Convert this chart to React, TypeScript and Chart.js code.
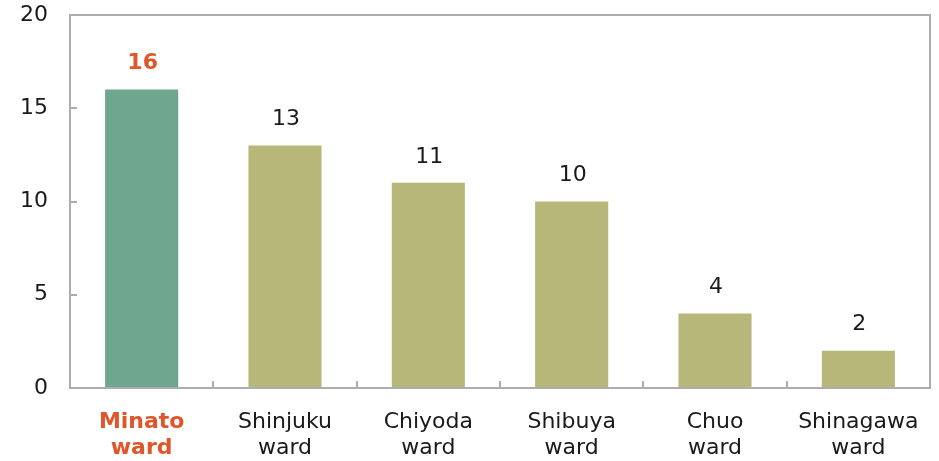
import React, { useEffect, useRef } from "react";
import { Chart, registerables } from "chart.js";

Chart.register(...registerables);

const categories: string[][] = [
  ["Minato", "ward"],
  ["Shinjuku", "ward"],
  ["Chiyoda", "ward"],
  ["Shibuya", "ward"],
  ["Chuo", "ward"],
  ["Shinagawa", "ward"],
];
const values: number[] = [16, 13, 11, 10, 4, 2];
const yTicks: number[] = [0, 5, 10, 15, 20];

const GREEN = "#6FA68F";
const OLIVE = "#B8B77A";
const ORANGE = "#E0562B";
const TEXT = "#1A1A1A";
const BORDER = "#ADADAD";
const FONT = "'DejaVu Sans', Verdana, sans-serif";
const FS = 22;

const framePlugin = {
  id: "frame",
  afterDraw(chart: any) {
    const { ctx, chartArea } = chart;
    const x = chart.scales.x;
    const y = chart.scales.y;
    ctx.save();
    ctx.strokeStyle = BORDER;
    ctx.lineWidth = 2;
    ctx.strokeRect(chartArea.left, chartArea.top, chartArea.right - chartArea.left, chartArea.bottom - chartArea.top);
    ctx.beginPath();
    yTicks.forEach((v) => {
      if (v === 0 || v === 20) return;
      const py = Math.round(y.getPixelForValue(v));
      ctx.moveTo(chartArea.left, py);
      ctx.lineTo(chartArea.left + 7, py);
    });
    for (let i = 0; i < values.length - 1; i++) {
      const px = Math.round((x.getPixelForTick(i) + x.getPixelForTick(i + 1)) / 2);
      ctx.moveTo(px, chartArea.bottom);
      ctx.lineTo(px, chartArea.bottom - 7);
    }
    ctx.stroke();
    ctx.restore();
  },
  afterDatasetsDraw(chart: any) {
    const { ctx } = chart;
    const meta = chart.getDatasetMeta(0);
    ctx.save();
    ctx.textAlign = "center";
    ctx.textBaseline = "middle";
    meta.data.forEach((bar: any, i: number) => {
      ctx.font = (i === 0 ? "bold " : "") + FS + "px " + FONT;
      ctx.fillStyle = i === 0 ? ORANGE : TEXT;
      ctx.fillText(String(values[i]), bar.x + 1, bar.y - 26);
    });
    ctx.restore();
  },
};

export default function App() {
  const ref = useRef<HTMLCanvasElement>(null);
  useEffect(() => {
    document.body.style.margin = "0";
    const chart = new Chart(ref.current!, {
      type: "bar",
      data: {
        labels: categories,
        datasets: [
          {
            data: values,
            backgroundColor: values.map((_, i) => (i === 0 ? GREEN : OLIVE)),
            borderWidth: 0,
            categoryPercentage: 1,
            barPercentage: 0.51,
          },
        ],
      },
      options: {
        responsive: false,
        animation: false,
        layout: { padding: { top: 15, right: 9, left: 0, bottom: 0 } },
        plugins: { legend: { display: false }, tooltip: { enabled: false } },
        scales: {
          x: {
            grid: { display: false, drawTicks: false },
            border: { display: false },
            ticks: {
              padding: 21,
              maxRotation: 0,
              autoSkip: false,
              color: (c: any) => (c.index === 0 ? ORANGE : TEXT),
              font: (c: any) => ({
                family: FONT,
                size: FS,
                weight: c.index === 0 ? "bold" : "normal",
                lineHeight: 1.18,
              }),
            },
            afterFit(scale: any) {
              scale.height = 73;
              scale.paddingLeft = 0;
              scale.paddingRight = 0;
            },
          },
          y: {
            min: 0,
            max: 20,
            grid: { display: false, drawTicks: false },
            border: { display: false },
            afterBuildTicks(scale: any) {
              scale.ticks = yTicks.map((v) => ({ value: v }));
            },
            ticks: {
              padding: 22,
              color: TEXT,
              font: { family: FONT, size: FS },
            },
            afterFit(scale: any) {
              scale.width = 70;
              scale.paddingTop = 0;
              scale.paddingBottom = 0;
            },
          },
        },
      },
      plugins: [framePlugin],
    });
    return () => chart.destroy();
  }, []);
  return (
    <div style={{ width: 939, height: 461 }}>
      <canvas ref={ref} width={939} height={461} style={{ display: "block" }} />
    </div>
  );
}
